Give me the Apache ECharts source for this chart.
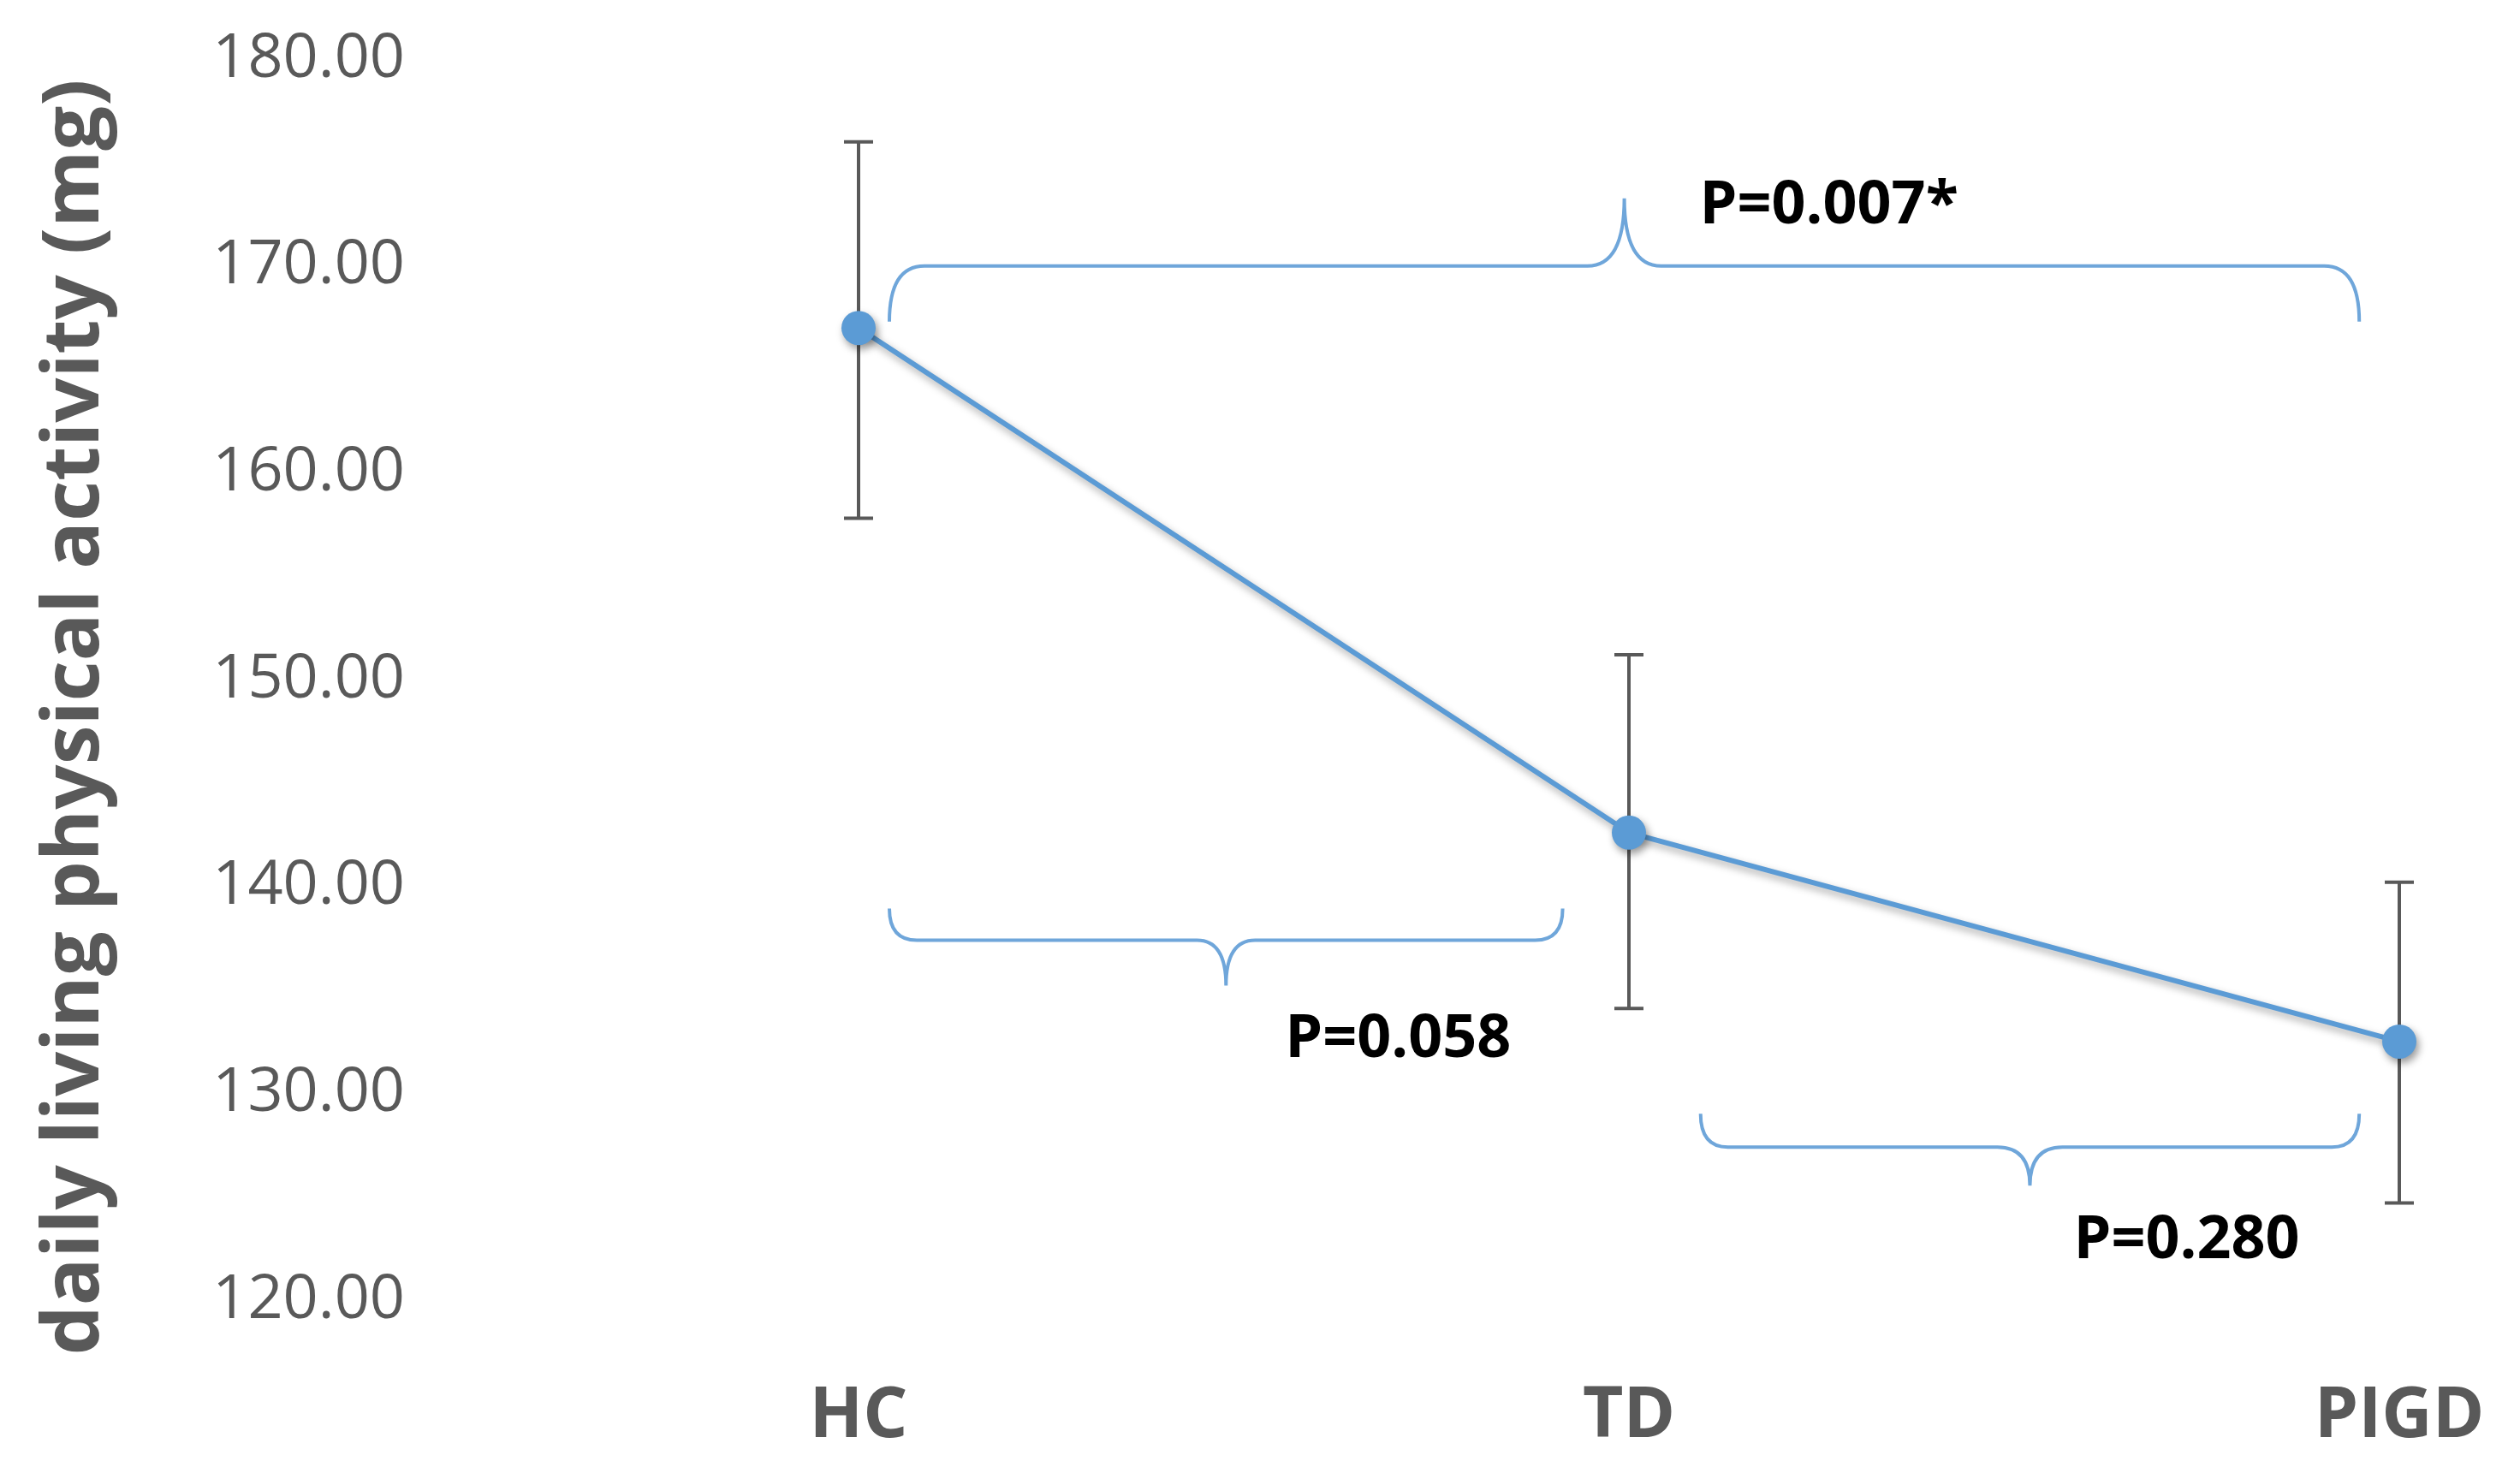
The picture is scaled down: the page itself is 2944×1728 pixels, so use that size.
<!DOCTYPE html>
<html>
<head>
<meta charset="utf-8">
<script src="https://cdn.jsdelivr.net/npm/echarts@6/dist/echarts.min.js"></script>
<style>
html,body{margin:0;padding:0;background:#fff;}
#chart{width:2944px;height:1728px;}
</style>
</head>
<body>
<div id="chart"></div>
<script>
// ---- data ----
const categories = ['HC', 'TD', 'PIGD'];
const meanValues = [167.0, 142.6, 132.5];
const errLow = [157.8, 134.1, 124.7];
const errHigh = [176.0, 151.2, 140.2];
const yTicks = [120, 130, 140, 150, 160, 170, 180];
const yAxisTitle = 'daily living physical activity (mg)';
// significance brackets: start / end (category position), level (mg), label
const braceFrom = [0.04, 0.04, 1.093];
const braceTo = [1.948, 0.914, 1.948];
const braceLevel = [170.0, 137.4, 127.4];
const braceLabels = ['P=0.007*', 'P=0.058', 'P=0.280'];

// ---- styles (pixels) ----
const braceStyle = [
  { dir: -1, tip: 79, end: 65, corner: 41, tipCurve: 43, dx: 88, dy: 9 },
  { dir: 1, tip: 53, end: 37, corner: 32, tipCurve: 34, dx: 69, dy: 64 },
  { dir: 1, tip: 45, end: 39, corner: 32, tipCurve: 38, dx: 51, dy: 65 }
];
const blue = '#5B9BD5';
const gray = '#595959';

const chart = echarts.init(document.getElementById('chart'));

const braceData = braceFrom.map((f, i) => [f, braceTo[i], braceLevel[i]]);
const errData = categories.map((c, i) => [i, errLow[i], errHigh[i]]);

chart.setOption({
  backgroundColor: '#ffffff',
  animation: false,
  grid: { left: 1003, right: 141, top: 69, bottom: 209 },
  xAxis: [
    {
      type: 'category',
      data: categories,
      boundaryGap: false,
      axisLine: { show: false },
      axisTick: { show: false },
      splitLine: { show: false },
      axisLabel: {
        color: gray,
        fontFamily: 'Open Sans',
        fontWeight: 'bold',
        fontSize: 82,
        margin: 96
      }
    },
    {
      type: 'value',
      min: 0,
      max: 2,
      show: false
    }
  ],
  yAxis: {
    type: 'value',
    min: yTicks[0],
    max: yTicks[yTicks.length - 1],
    interval: 10,
    axisLine: { show: false },
    axisTick: { show: false },
    splitLine: { show: false },
    axisLabel: {
      color: gray,
      fontFamily: 'Open Sans',
      fontSize: 72,
      margin: 530,
      formatter: v => v.toFixed(2)
    },
    name: yAxisTitle,
    nameLocation: 'middle',
    nameGap: 868,
    nameTextStyle: {
      color: gray,
      fontFamily: 'Open Sans',
      fontWeight: 'bold',
      fontSize: 92,
      padding: [0, 88, 0, 0]
    }
  },
  series: [
    {
      type: 'custom',
      name: 'error',
      xAxisIndex: 0,
      z: 1,
      data: errData,
      renderItem: function (params, api) {
        const x = api.value(0);
        const lo = api.coord([x, api.value(1)]);
        const hi = api.coord([x, api.value(2)]);
        const hw = 17;
        const st = { stroke: gray, lineWidth: 4 };
        return {
          type: 'group',
          children: [
            { type: 'line', shape: { x1: lo[0], y1: lo[1], x2: hi[0], y2: hi[1] }, style: st },
            { type: 'line', shape: { x1: hi[0] - hw, y1: hi[1], x2: hi[0] + hw, y2: hi[1] }, style: st },
            { type: 'line', shape: { x1: lo[0] - hw, y1: lo[1], x2: lo[0] + hw, y2: lo[1] }, style: st }
          ]
        };
      }
    },
    {
      type: 'line',
      data: meanValues,
      z: 3,
      symbol: 'circle',
      symbolSize: 40,
      lineStyle: {
        color: blue,
        width: 6,
        shadowColor: 'rgba(0,0,0,0.35)',
        shadowBlur: 10,
        shadowOffsetX: 3,
        shadowOffsetY: 5
      },
      itemStyle: {
        color: blue,
        shadowColor: 'rgba(0,0,0,0.4)',
        shadowBlur: 10,
        shadowOffsetX: 3,
        shadowOffsetY: 5
      }
    },
    {
      type: 'custom',
      name: 'brace',
      xAxisIndex: 1,
      z: 2,
      data: braceData,
      renderItem: function (params, api) {
        const i = params.dataIndex;
        const s = braceStyle[i];
        const p1 = api.coord([api.value(0), api.value(2)]);
        const p2 = api.coord([api.value(1), api.value(2)]);
        const x1 = p1[0], x2 = p2[0], y0 = p1[1];
        const xt = (x1 + x2) / 2;
        const yEnd = y0 - s.dir * s.end;
        const yTip = y0 + s.dir * s.tip;
        const r = s.corner, r2 = s.tipCurve;
        const path =
          'M' + x1 + ',' + yEnd +
          ' Q' + x1 + ',' + y0 + ' ' + (x1 + r) + ',' + y0 +
          ' L' + (xt - r2) + ',' + y0 +
          ' Q' + xt + ',' + y0 + ' ' + xt + ',' + yTip +
          ' Q' + xt + ',' + y0 + ' ' + (xt + r2) + ',' + y0 +
          ' L' + (x2 - r) + ',' + y0 +
          ' Q' + x2 + ',' + y0 + ' ' + x2 + ',' + yEnd;
        return {
          type: 'group',
          children: [
            {
              type: 'path',
              shape: { pathData: path },
              style: { stroke: '#6FA6DA', lineWidth: 4, fill: null }
            },
            {
              type: 'text',
              style: {
                text: braceLabels[i],
                x: xt + s.dx,
                y: yTip + s.dy,
                fill: '#000000',
                font: 'bold 70px "Open Sans"',
                align: 'left',
                verticalAlign: 'middle'
              }
            }
          ]
        };
      }
    }
  ]
});
</script>
</body>
</html>
